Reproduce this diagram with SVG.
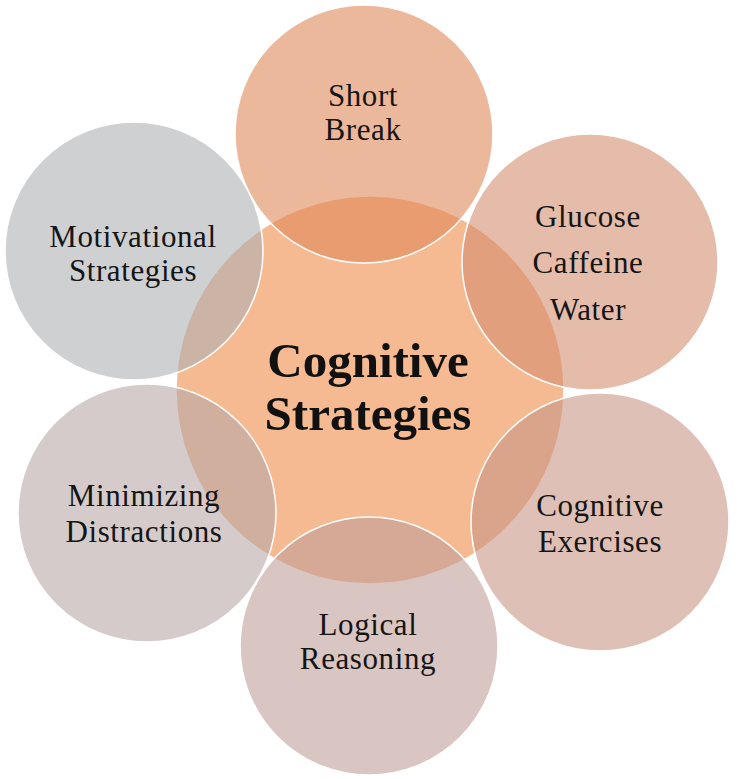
<svg xmlns="http://www.w3.org/2000/svg" width="739" height="779" viewBox="0 0 739 779">
<style>
.c{stroke:#ffffff;stroke-width:1.5}
.o{fill-opacity:0.6}
.t{font-family:"Liberation Serif","Times New Roman",serif;font-size:31px;fill:#151515;text-anchor:middle;letter-spacing:0.6px}
.m{font-family:"Liberation Serif","Times New Roman",serif;font-size:49px;font-weight:bold;fill:#111111;text-anchor:middle}
</style>
<rect width="739" height="779" fill="#ffffff"/>
<g id="center">
<circle class="c" cx="370" cy="390" r="194" fill="#F5BA91"/>
</g>
<g id="short-break">
<circle class="c o" cx="364" cy="134" r="129" fill="#DF885A"/>
<text class="t" x="363" y="106">Short</text>
<text class="t" x="363" y="140">Break</text>
</g>
<g id="glucose">
<circle class="c o" cx="590" cy="262" r="128" fill="#D48E71"/>
<text class="t" x="588" y="227">Glucose</text>
<text class="t" x="588" y="273">Caffeine</text>
<text class="t" x="588" y="320">Water</text>
</g>
<g id="cognitive-exercises">
<circle class="c o" cx="600" cy="522" r="129" fill="#C89685"/>
<text class="t" x="600" y="516">Cognitive</text>
<text class="t" x="600" y="552">Exercises</text>
</g>
<g id="logical-reasoning">
<circle class="c o" cx="369" cy="646" r="129" fill="#C09E98"/>
<text class="t" x="368" y="635">Logical</text>
<text class="t" x="368" y="669">Reasoning</text>
</g>
<g id="minimizing-distractions">
<circle class="c o" cx="147" cy="513" r="129" fill="#B9A8A8"/>
<text class="t" x="144" y="506">Minimizing</text>
<text class="t" x="144" y="542">Distractions</text>
</g>
<g id="motivational-strategies">
<circle class="c o" cx="134" cy="251" r="129" fill="#AFB1B4"/>
<text class="t" x="133" y="247">Motivational</text>
<text class="t" x="133" y="281">Strategies</text>
</g>
<g id="center-label">
<text class="m" x="368" y="377">Cognitive</text>
<text class="m" x="368" y="430">Strategies</text>
</g>
<g id="connectors"/>
</svg>
